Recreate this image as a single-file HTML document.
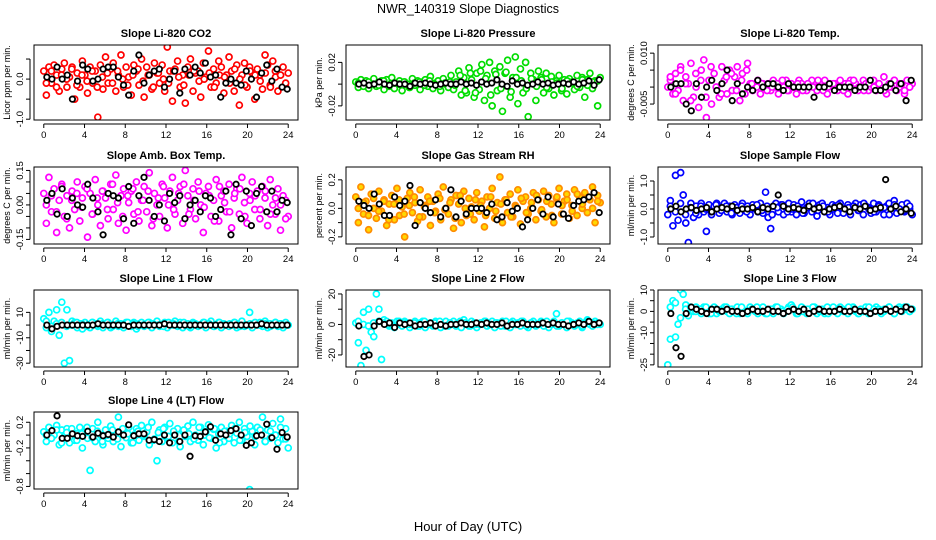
<!DOCTYPE html>
<html><head><meta charset="utf-8">
<style>
html,body{margin:0;padding:0;background:#fff;}
svg{display:block;font-family:"Liberation Sans",Arial,sans-serif;}
</style></head>
<body>
<svg id="chart" width="936" height="540" viewBox="0 0 936 540" xmlns="http://www.w3.org/2000/svg">
<rect x="0" y="0" width="936" height="540" fill="#fff"/>
<text x="468" y="13" font-size="12.5" text-anchor="middle">NWR_140319  Slope Diagnostics</text>
<text x="468" y="531" font-size="13" text-anchor="middle">Hour of Day (UTC)</text>
</svg>
<script>
const hourTicks = [0,4,8,12,16,20,24];
const titles = ["Slope Li-820 CO2","Slope Li-820 Pressure","Slope Li-820 Temp.","Slope Amb. Box Temp.","Slope Gas Stream RH","Slope Sample Flow","Slope Line 1 Flow","Slope Line 2 Flow","Slope Line 3 Flow","Slope Line 4 (LT) Flow"];
const yTitles = ["Licor ppm per min.","kPa per min.","degrees C per min.","degrees C per min.","percent per min.","ml/min per min.","ml/min per min.","ml/min per min.","ml/min per min.","ml/min per min."];
const yRanges = [[-1.02,0.85],[-0.033,0.036],[-0.0097,0.0124],[-0.17,0.165],[-0.25,0.29],[-1.25,1.5],[-33,27.6],[-27.9,22.6],[-26,10],[-0.84,0.36]];
const yTicks = [[-1,-0.5,0,0.5],[-0.02,0,0.02],[-0.005,0,0.005,0.01],[-0.15,-0.1,-0.05,0,0.05,0.1,0.15],[-0.2,-0.1,0,0.1,0.2],[-1,-0.5,0,0.5,1],[-30,-20,-10,0,10],[-20,-10,0,10,20],[-25,-20,-15,-10,-5,0,5,10],[-0.8,-0.6,-0.4,-0.2,0,0.2]];
const yTickLabels = [["-1.0","","0.0",""],["-0.02","","0.02"],["-0.005","","","0.010"],["-0.15","","","0.00","","","0.15"],["-0.2","","0.0","","0.2"],["-1.0","","0.0","","1.0"],["-30","","-10","","10"],["-20","","0","","20"],["-25","","","-10","","0","","10"],["-0.8","","","-0.2","","0.2"]];
const colors = ["#ff0000","#00dd00","#ff00ff","#ff00ff","#ff8c00","#0000ff","#00ffff","#00ffff","#00ffff","#00ffff"];

const co2 = [0.2,-0.4,0.3,-0.1,0.35,0.1,-0.3,0.25,0.4,-0.2,0.05,0.3,-0.5,0.15,-0.2,0.45,0.1,-0.35,0.3,-0.1,0.2,-0.95,0.35,-0.25,0.55,-0.1,0.25,0.4,-0.3,0.1,0.6,-0.2,0.3,0.05,-0.4,0.35,0.2,-0.15,0.5,-0.45,0.3,0.1,-0.25,0.4,0.15,-0.1,0.35,-0.3,0.8,0.2,-0.55,0.25,0.45,-0.2,0.1,-0.6,0.3,0.5,-0.3,0.15,0.2,-0.45,0.4,0.05,0.7,-0.2,0.25,-0.1,0.45,0.3,-0.35,0.1,0.55,0.2,-0.3,0.35,-0.65,0.1,0.4,-0.2,0.3,0.15,-0.5,0.25,0.1,-0.25,0.6,0.35,-0.15,0.45,0.2,-0.3,0.1,0.3,-0.2,0.15];
const co2B = [-0.1,0.2,-0.2,0.1,0.0,0.25,-0.15,0.1,-0.05,0.2,-0.2,0.05,0.15,-0.1,0.2,0.0,-0.15,0.1,0.25,-0.05,0.1,-0.2,0.15,0.0,-0.1,0.2,0.05,-0.15,0.1,0.2,-0.05,0.0,0.15,-0.2,0.1,0.05,-0.1,0.25,0.0,-0.15,0.2,0.1,-0.05,0.15,-0.2,0.05,0.1,-0.1];
const co2Ref = [0.05,0.0,0.3,0.0,0.1,-0.5,-0.05,0.35,0.25,-0.05,0.0,0.25,0.3,0.3,0.05,-0.15,-0.4,0.2,0.6,-0.1,0.1,0.2,0.25,-0.2,0.0,0.2,-0.35,0.25,0.1,0.3,0.15,0.4,0.05,0.1,-0.45,-0.1,0.0,-0.1,-0.15,0.2,0.0,-0.45,0.15,0.35,-0.05,0.25,-0.2,-0.25];
const pressure = [0.002,-0.003,0.004,-0.001,0.003,-0.004,0.001,0.005,-0.002,0.0,0.003,-0.005,0.004,-0.002,0.006,-0.004,0.001,0.003,-0.006,0.002,0.0,-0.003,0.005,-0.001,0.003,-0.005,0.002,0.004,-0.002,0.007,-0.004,0.001,0.003,-0.006,0.005,0.0,-0.003,0.008,-0.005,0.002,0.012,-0.01,0.006,-0.008,0.015,0.004,-0.012,0.01,-0.005,0.018,-0.015,0.008,0.02,-0.02,0.012,-0.006,0.016,-0.025,0.01,0.022,-0.012,0.006,0.025,-0.018,0.014,-0.008,0.02,-0.03,0.01,0.004,-0.015,0.012,0.006,-0.008,0.01,-0.004,0.007,-0.01,0.003,0.008,-0.006,0.004,-0.009,0.005,0.002,-0.005,0.008,-0.003,0.006,-0.012,0.004,0.01,-0.004,0.003,-0.02,0.006];
const pressureB = [0.001,-0.002,0.002,0,-0.001,0.003,-0.002,0.001,0,0.002,-0.003,0.001,0.002,-0.001,0.003,0,-0.002,0.001,0.002,-0.001,0.008,-0.006,0.01,-0.008,0.012,0.005,-0.01,0.009,-0.004,0.011,-0.007,0.006,0.003,-0.004,0.005,-0.002,0.004,-0.003,0.002,0.001,-0.004,0.003,0.001,-0.002,0.004,-0.001,0.002,0.003];
const pressureRef = [0,0.001,-0.001,0,0.002,0,-0.001,0.001,0,0,-0.002,0.001,0,0.001,0,-0.001,0,0.001,0,0,0.002,0,0.001,-0.001,0.002,0,0.001,0.004,0,-0.002,0.003,0,0.001,-0.001,0,0.002,0,0.001,-0.001,0,0.001,0,0.002,0,0.001,0.003,-0.001,0.004];
const licorTemp = [0.0,0.002,-0.002,0.004,-0.001,0.006,-0.004,0.003,0.001,0.007,-0.003,0.0,-0.006,0.005,0.008,-0.009,0.002,-0.005,0.004,0.0,-0.003,0.006,0.002,-0.002,0.005,-0.001,0.003,0.006,-0.004,0.004,-0.002,0.007,0.001,-0.001,0.0,0.002,-0.002,0.001,0.0,0.001,-0.001,0.002,0.0,-0.002,0.001,0.0,0.002,-0.001,0.001,0.0,-0.002,0.002,0.001,0.0,-0.001,0.001,0.002,0.0,-0.001,0.001,0.0,0.002,-0.002,0.001,0.0,0.001,-0.001,0.002,0.0,0.001,-0.002,0.002,0.0,0.001,-0.001,0.0,0.002,0.001,-0.001,0.0,0.002,-0.001,0.001,0.0,0.003,-0.002,0.001,0.0,0.002,-0.001,0.0,0.001,-0.002,0.002,0.0,0.001];
const licorTempB = [0.003,-0.002,0.005,0.001,-0.004,0.004,0.002,-0.003,0.006,0.0,-0.002,0.003,0.004,-0.001,0.002,0.005,0.001,0.0,0.001,-0.001,0.0,0.001,0.002,-0.001,0.0,0.001,-0.001,0.001,0.0,0.002,-0.001,0.0,0.001,0.0,-0.001,0.001,0.002,0.0,-0.001,0.001,0.0,0.001,-0.001,0.0,0.002,0.001,-0.001,0.0];
const licorTempRef = [0,0.001,0.001,-0.005,-0.007,0.001,-0.003,0.0,0.002,-0.001,0.001,0.005,-0.004,0.001,-0.002,0.0,-0.001,0.002,0.0,0.001,0.001,0.0,-0.001,0.001,0.0,0.0,0.0,0.0,-0.003,0.0,0.0,0.001,-0.001,0.0,0.0,0.0,-0.001,0.0,0.0,0.002,-0.001,-0.001,0.0,0.001,-0.001,0.001,-0.004,0.002];
const ambTemp = [0.05,-0.08,0.12,-0.03,0.07,-0.12,0.02,0.09,-0.05,0.04,-0.1,0.06,-0.02,0.1,-0.07,0.03,0.08,-0.14,0.05,-0.04,0.11,0.0,-0.09,0.06,0.03,-0.06,0.09,-0.02,0.13,-0.08,0.04,0.07,-0.11,0.01,0.06,-0.04,0.1,-0.07,0.02,0.08,-0.03,0.14,-0.09,0.05,0.0,-0.05,0.09,0.03,-0.1,0.06,0.12,-0.04,0.02,0.08,-0.08,0.15,0.04,-0.02,0.07,-0.06,0.1,0.0,-0.12,0.05,0.08,-0.05,0.02,0.11,-0.07,0.04,0.06,-0.03,0.09,-0.1,0.03,0.07,-0.04,0.12,0.01,-0.08,0.05,0.1,-0.02,0.06,-0.06,0.08,0.03,-0.09,0.11,0.0,-0.04,0.07,-0.11,0.04,0.02,-0.05];
const ambTempB = [0.0,0.04,-0.03,0.08,-0.06,0.02,0.05,-0.01,0.07,-0.04,0.03,0.06,-0.02,0.09,0.01,-0.05,0.04,0.07,-0.03,0.02,0.06,-0.06,0.03,0.08,0.0,-0.02,0.05,0.09,-0.04,0.02,0.06,-0.01,0.04,-0.07,0.08,0.01,-0.03,0.05,0.07,-0.05,0.02,0.04,-0.02,0.06,-0.04,0.03,0.0,-0.06];
const ambTempRef = [0.02,0.05,-0.04,0.07,-0.05,0.03,0.0,-0.01,0.09,0.03,-0.03,-0.13,0.05,0.04,0.03,-0.06,0.08,-0.08,0.04,0.12,0.02,-0.05,0.0,-0.07,0.05,0.01,0.04,-0.06,0.0,0.02,-0.03,0.04,0.03,-0.05,-0.02,0.06,-0.13,0.09,-0.06,0.06,-0.09,0.05,0.08,-0.03,0.06,-0.03,0.02,0.01];
const gasRH = [0.08,-0.1,0.15,-0.04,0.05,-0.15,0.1,0.0,-0.07,0.12,-0.02,0.06,-0.12,0.03,0.09,-0.08,0.14,-0.05,0.01,-0.2,0.07,0.11,-0.03,0.04,-0.09,0.13,-0.06,0.02,0.08,-0.12,0.05,-0.02,0.1,-0.08,0.15,0.0,-0.04,0.06,-0.14,0.09,0.03,-0.1,0.12,-0.05,0.07,0.01,-0.08,0.11,-0.02,0.05,-0.13,0.08,0.0,0.14,-0.07,0.04,0.22,-0.1,0.06,-0.03,0.1,-0.06,0.02,0.13,-0.11,0.05,0.08,-0.04,0.0,0.11,-0.08,0.06,-0.02,0.12,-0.06,0.09,0.03,-0.1,0.07,0.14,-0.04,0.05,0.1,-0.07,0.02,0.13,-0.05,0.08,0.0,0.11,-0.03,0.06,0.15,-0.1,0.09,0.04];
const gasRHB = [0.0,0.04,-0.05,0.07,-0.02,0.05,-0.08,0.03,0.06,-0.04,0.02,0.08,-0.06,0.01,0.05,-0.03,0.07,-0.01,0.04,-0.07,0.09,0.0,-0.04,0.06,0.02,-0.05,0.08,-0.02,0.03,0.06,-0.06,0.01,0.07,-0.03,0.04,0.09,-0.01,0.05,-0.05,0.08,0.02,0.06,-0.02,0.1,0.03,0.07,0.0,0.05];
const gasRHRef = [0.05,0.02,0.0,0.1,0.03,-0.05,-0.05,0.08,0.02,0.05,0.16,-0.12,0.04,0.0,-0.03,0.06,-0.06,0.0,0.13,-0.06,0.05,-0.04,0.0,0.0,0.0,-0.03,0.03,-0.08,-0.06,0.04,-0.02,0.0,-0.13,-0.08,0.0,0.06,-0.04,0.08,-0.06,0.03,-0.04,-0.07,0.02,0.05,0.06,0.08,0.11,-0.03];
const sampleFlow = [-0.2,0.3,-0.6,1.2,-0.4,1.3,0.5,-0.5,-1.2,0.2,-0.3,0.1,-0.2,0.2,-0.1,-0.8,0.15,-0.2,0.1,0.2,-0.15,0.05,0.2,-0.1,0.1,-0.2,0.15,0.0,-0.15,0.2,-0.05,0.1,-0.2,0.15,0.05,-0.1,0.2,-0.15,0.6,-0.3,-0.7,0.1,0.2,-0.1,0.15,-0.2,0.05,0.2,-0.1,0.15,-0.2,0.1,0.25,-0.15,0.05,0.2,-0.1,0.1,-0.25,0.15,0.2,-0.1,0.05,-0.2,0.15,0.1,-0.15,0.2,0.0,-0.1,0.15,-0.2,0.1,0.2,-0.05,0.15,-0.2,0.1,0.05,-0.15,0.2,-0.1,0.15,0.0,-0.2,0.1,0.2,-0.1,0.3,-0.15,0.05,0.15,-0.1,0.2,0.0,-0.2];
const sampleFlowB = [0.1,-0.1,0.2,-0.2,0.05,-0.15,0.1,0.0,-0.1,0.15,-0.05,0.1,-0.15,0.05,0.1,-0.1,0.0,0.15,-0.05,0.1,-0.2,0.05,0.15,-0.1,0.0,0.1,-0.15,0.05,0.2,-0.05,0.1,-0.1,0.0,0.15,-0.15,0.05,0.1,-0.05,0.2,0.0,-0.1,0.1,0.05,-0.2,0.15,0.0,-0.05,0.1];
const sampleFlowRef = [0.0,0.1,-0.1,0.0,0.05,-0.05,0.0,0.05,-0.1,0.0,0.05,0.0,0.1,-0.05,0.0,0.0,0.05,-0.1,0.05,0.0,0.1,0.5,0.1,0.0,0.05,0.0,-0.05,0.1,0.0,0.05,-0.1,0.0,0.05,0.1,0.0,-0.1,0.05,0.0,0.1,-0.05,0.0,0.05,1.05,0.0,0.1,-0.1,0.0,-0.15];
const line1 = [5,-2,10,-5,3,12,-8,18,-30,12,-28,3,2,-2,1,-3,2,0,-2,2,1,-1,3,-2,1,2,-2,0,3,-1,1,-2,2,0,-1,2,-3,1,2,-1,0,2,-2,1,3,-1,0,2,-2,1,0,3,-1,2,-2,0,1,-2,2,1,-1,0,2,-2,1,3,-1,0,2,-2,1,0,-1,0,2,-2,1,3,-1,0,10,-2,1,0,2,-1,3,-2,1,0,2,-1,1,-2,2,0];
const line1B = [3,-1,1,2,-1,0,2,1,-1,2,0,1,2,-1,1,0,2,1,-1,0,2,1,0,-1,2,1,0,2,-1,1,0,2,1,-1,2,0,1,2,-1,0,1,2,0,1,-1,2,1,0];
const line1Ref = [0,-3,-1,0,0,0,0,0,0,0,1,0,0,0,0,0,-1,0,0,0,0,0,0,1,0,0,0,0,0,0,0,0,0,0,0,0,0,0,0,0,0,0,1,0,0,0,0,0];
const line2 = [1,-12,-27,8,-17,10,-5,-8,20,10,-23,3,2,-1,1,-2,2,0,-1,2,1,-2,0,2,-1,1,2,-2,0,1,-1,2,0,-2,1,2,-1,0,2,-1,1,-2,3,0,-1,2,1,-2,0,1,2,-1,0,2,-2,1,0,2,-1,1,-2,2,0,1,-1,2,0,-2,1,2,-1,0,2,-1,1,-2,0,2,7,-1,1,0,-2,2,1,-1,0,2,-2,1,3,0,-1,2,1,0];
const line2B = [2,0,-1,1,2,1,0,-1,2,1,0,1,-1,2,0,1,2,-1,1,0,2,1,-1,0,1,2,0,1,-1,2,1,0,2,-1,1,0,1,2,0,-1,1,2,0,1,-1,2,1,0];
const line2Ref = [-1,-21,-20,-1,2,0,1,-2,1,0,1,-1,0,0,1,-1,0,-1,0,0,1,0,0,1,0,1,0,0,1,-1,0,0,1,0,0,0,1,0,1,0,0,-1,0,1,0,2,0,1];
const line3 = [-25,-13,5,-12,-6,10,8,3,-2,1,0,2,1,-1,2,0,-1,1,2,-1,0,1,2,0,-1,1,0,2,-1,1,0,-1,2,1,0,-1,1,2,-1,0,1,-1,2,0,1,-1,0,2,3,1,-1,0,2,1,-1,0,1,2,-1,0,1,-1,2,0,1,0,-1,2,1,0,-1,1,2,0,-1,1,0,2,-1,1,0,2,1,-1,0,1,2,0,-1,1,2,0,1,2,0,1];
const line3B = [2,4,-3,1,2,0,1,2,-1,1,0,2,1,-1,2,0,1,2,0,-1,1,2,0,1,2,-1,0,1,2,1,0,-1,2,1,0,2,1,-1,0,2,1,0,1,2,-1,1,2,0];
const line3Ref = [-1,-17,-21,-1,2,1,0,-1,1,1,0,1,0,0,-1,0,1,0,0,1,0,0,-1,0,1,0,1,-1,0,1,0,0,0,1,0,0,1,0,0,-1,0,0,1,0,1,0,2,1];
const line4 = [0.05,-0.1,0.12,-0.05,0.0,0.15,-0.15,0.08,-0.02,0.1,-0.12,0.05,-0.08,0.02,0.12,-0.2,0.05,-0.05,-0.55,0.1,-0.1,0.2,0.0,-0.15,0.08,-0.05,0.14,-0.1,0.02,0.28,-0.18,0.06,-0.04,0.12,-0.12,0.0,0.1,-0.08,0.15,-0.02,0.05,-0.15,0.2,-0.06,-0.4,0.08,-0.1,0.12,-0.04,0.18,-0.12,0.03,0.1,-0.18,0.06,-0.02,0.14,-0.1,0.2,0.0,-0.08,0.12,-0.15,0.05,0.16,-0.05,0.09,-0.2,0.02,0.12,-0.1,0.06,-0.05,0.15,-0.12,0.03,0.2,-0.08,0.1,-0.02,-0.85,0.06,-0.15,0.12,0.02,0.28,-0.1,0.08,-0.05,0.18,0.0,-0.12,0.25,-0.06,0.1,-0.2];
const line4B = [0.0,-0.05,0.08,-0.12,0.04,0.1,-0.08,0.02,0.12,-0.04,0.06,-0.1,0.0,0.08,-0.06,0.1,0.02,-0.12,0.06,0.0,0.12,-0.08,0.04,0.1,-0.02,0.06,-0.1,0.08,0.02,-0.06,0.12,0.0,-0.04,0.1,-0.12,0.06,0.02,0.1,-0.08,0.04,0.14,-0.02,0.08,-0.1,0.06,0.0,0.12,-0.06];
const line4Ref = [0.0,0.07,0.3,-0.05,-0.05,0.02,-0.01,-0.02,0.06,-0.03,0.03,-0.01,0.01,-0.03,0.05,0.0,0.16,-0.01,0.02,0.02,-0.08,-0.07,-0.1,0.0,-0.12,0.0,-0.1,0.0,-0.33,-0.01,-0.02,0.05,0.13,-0.08,0.02,0.0,0.07,0.1,0.0,-0.16,-0.12,-0.01,0.0,0.17,-0.04,-0.22,0.04,-0.03];

const seriesMain = [co2,pressure,licorTemp,ambTemp,gasRH,sampleFlow,line1,line2,line3,line4];
const seriesExtra = [co2B,pressureB,licorTempB,ambTempB,gasRHB,sampleFlowB,line1B,line2B,line3B,line4B];
const seriesRef = [co2Ref,pressureRef,licorTempRef,ambTempRef,gasRHRef,sampleFlowRef,line1Ref,line2Ref,line3Ref,line4Ref];

const NS = "http://www.w3.org/2000/svg";
const svg = document.getElementById("chart");
function mk(tag, attrs, parent){
  const e = document.createElementNS(NS, tag);
  for (const k in attrs) e.setAttribute(k, attrs[k]);
  (parent||svg).appendChild(e);
  return e;
}
const boxTops = [45,167,290,412], boxBots = [120,244,367,489];
const colLeft = [34,346,658], boxW = 264;

for (let p = 0; p < titles.length; p++) {
  const row = Math.floor(p/3), col = p%3;
  const L = colLeft[col], R = L + boxW, T = boxTops[row], B = boxBots[row];
  const x0 = -0.96, x1 = 24.96;
  const xs = v => L + (v - x0) / (x1 - x0) * (R - L);
  const [ylo, yhi] = yRanges[p];
  const ys = v => B - (v - ylo) / (yhi - ylo) * (B - T);
  const g = mk("g", {});
  
  

  const t = mk("text", {x:(L+R)/2, y:T-8, "font-size":"11", "font-weight":"bold", "text-anchor":"middle"}, g);
  t.textContent = titles[p];
  
  

  const yt = mk("text", {x:0, y:0, "font-size":"9", "text-anchor":"middle", transform:"translate("+(L-24)+","+((T+B)/2)+") rotate(-90)"}, g);
  yt.textContent = yTitles[p];
  
  

  const xa = mk("g", {}, g);
  
  
  mk("line", {x1:xs(hourTicks[0]), x2:xs(hourTicks[hourTicks.length-1]), y1:B+4, y2:B+4, stroke:"#000", "stroke-width":"1"}, xa);
  hourTicks.forEach(h => {
    mk("line", {x1:xs(h), x2:xs(h), y1:B+4, y2:B+8, stroke:"#000"}, xa);
    const tl = mk("text", {x:xs(h), y:B+18, "font-size":"9.5", "text-anchor":"middle"}, xa);
    tl.textContent = h;
    
    
  });
  const ya = mk("g", {}, g);
  
  
  const tks = yTicks[p];
  mk("line", {x1:L-4, x2:L-4, y1:ys(tks[0]), y2:ys(tks[tks.length-1]), stroke:"#000"}, ya);
  tks.forEach((v,i) => {
    mk("line", {x1:L-8, x2:L-4, y1:ys(v), y2:ys(v), stroke:"#000"}, ya);
    const lab = yTickLabels[p][i];
    if (lab) {
      const tl = mk("text", {x:0, y:0, "font-size":"9.5", "text-anchor":"middle", transform:"translate("+(L-11)+","+ys(v)+") rotate(-90)"}, ya);
      tl.textContent = lab;
      
      
    }
  });

  const cid = "clip" + p;
  const cp = mk("clipPath", {id:cid}, g);
  mk("rect", {x:L, y:T, width:R-L, height:B-T}, cp);
  const pts = mk("g", {"clip-path":"url(#"+cid+")"}, g);
  
  

  const isRH = (p === 4);
  const main = seriesMain[p];
  main.forEach((v,i) => {
    const h = i * 24 / (main.length - 1);
    const c = mk("circle", {cx:xs(h), cy:ys(v), r:"3", fill: isRH ? "#ffd800" : "#fff", stroke: colors[p], "stroke-width":"1.7"}, pts);
    
    
  });
  const extra = seriesExtra[p];
  extra.forEach((v,i) => {
    const h = 0.25 + i * 23.5 / (extra.length - 1);
    const c = mk("circle", {cx:xs(h), cy:ys(v), r:"3", fill: isRH ? "#ffd800" : "#fff", stroke: colors[p], "stroke-width":"1.7"}, pts);
    
    
  });
  const ref = seriesRef[p];
  ref.forEach((v,i) => {
    const h = 0.3 + i * 23.6 / (ref.length - 1);
    const c = mk("circle", {cx:xs(h), cy:ys(v), r:"2.7", fill:"#fff", stroke:"#000", "stroke-width":"1.8"}, pts);
    
    
  });

  const box = mk("rect", {x:L, y:T, width:R-L, height:B-T, fill:"none", stroke:"#000", "stroke-width":"1"}, g);
  
  
}
</script>
</body></html>
